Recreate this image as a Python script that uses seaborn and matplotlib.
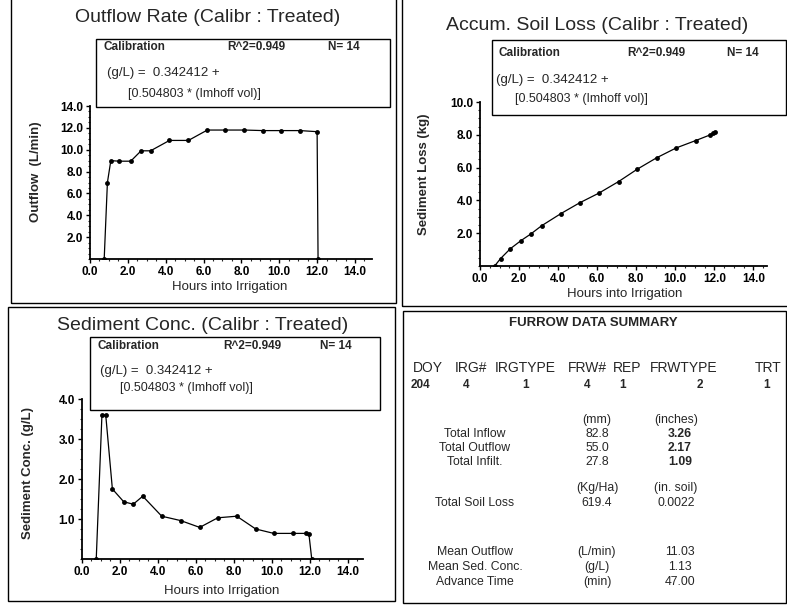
import matplotlib
matplotlib.use("Agg")
import matplotlib.pyplot as plt
import seaborn as sns
from matplotlib.patches import Rectangle
from matplotlib.ticker import MultipleLocator, FormatStrFormatter

# outflow rate, L/min
outflow_hours = [0.75, 0.92, 1.1, 1.55, 2.15, 2.7, 3.2, 4.2, 5.2, 6.2, 7.15, 8.15, 9.15, 10.1, 11.1, 12.0, 12.05]
outflow_lpm = [0.0, 7.0, 9.0, 8.95, 8.95, 9.9, 9.9, 10.85, 10.85, 11.8, 11.8, 11.8, 11.75, 11.75, 11.75, 11.65, 0.0]

# accumulated soil loss, kg
soil_hours = [0.75, 1.05, 1.55, 2.1, 2.6, 3.15, 4.15, 5.1, 6.1, 7.1, 8.05, 9.05, 10.05, 11.05, 11.8, 11.95, 12.05]
soil_kg = [0.0, 0.45, 1.05, 1.55, 1.95, 2.45, 3.2, 3.85, 4.45, 5.15, 5.9, 6.6, 7.2, 7.65, 8.0, 8.1, 8.15]

# sediment concentration, g/L
sed_hours = [0.75, 1.05, 1.25, 1.6, 2.2, 2.7, 3.2, 4.2, 5.2, 6.2, 7.15, 8.15, 9.15, 10.1, 11.1, 11.8, 11.95, 12.1]
sed_gl = [0.0, 3.6, 3.6, 1.75, 1.43, 1.37, 1.57, 1.07, 0.96, 0.79, 1.03, 1.07, 0.75, 0.64, 0.64, 0.64, 0.63, 0.0]

# summary table
head_names = ['DOY', 'IRG#', 'IRGTYPE', 'FRW#', 'REP', 'FRWTYPE', 'TRT']
head_values = ['204', '4', '1', '4', '1', '2', '1']
water_rows = ['Total Inflow', 'Total Outflow', 'Total Infilt.']
water_mm = ['82.8', '55.0', '27.8']
water_in = ['3.26', '2.17', '1.09']
soil_label = 'Total Soil Loss'
soil_kgha = '619.4'
soil_in = '0.0022'
mean_rows = ['Mean Outflow', 'Mean Sed. Conc.', 'Advance Time']
mean_units = ['(L/min)', '(g/L)', '(min)']
mean_values = ['11.03', '1.13', '47.00']

sns.set_theme(style='ticks')
plt.rcParams['font.family'] = ['Liberation Sans', 'DejaVu Sans']

W, H = 787, 612
fig = plt.figure(figsize=(W / 100, H / 100), dpi=100)
fig.patch.set_facecolor('white')


def fx(x):
    return x / W


def fy(y):
    return 1 - y / H


def add_ax(left, top, right, bottom):
    return fig.add_axes([fx(left), fy(bottom), (right - left) / W, (bottom - top) / H])


def style_ax(ax, xmax, ymax, ystep, ylabel, ylab_pos, xlab_pos):
    ax.set_xlim(0, xmax)
    ax.set_ylim(0, ymax)
    ax.xaxis.set_major_locator(MultipleLocator(2))
    ax.xaxis.set_minor_locator(MultipleLocator(0.5))
    ax.yaxis.set_major_locator(MultipleLocator(ystep))
    ax.yaxis.set_minor_locator(MultipleLocator(ystep / 4))
    ax.xaxis.set_major_formatter(FormatStrFormatter('%.1f'))
    ax.yaxis.set_major_formatter(FormatStrFormatter('%.1f'))
    ax.set_yticks([t for t in ax.get_yticks() if 0 < t <= ymax + 1e-9])
    sns.despine(ax=ax)
    for s in ['left', 'bottom']:
        ax.spines[s].set_linewidth(1.3)
        ax.spines[s].set_color('black')
    ax.tick_params(which='major', length=3, width=1, labelsize=8.5, pad=2, colors='black')
    ax.tick_params(which='minor', length=1.5, width=0.8)
    for lab in ax.get_xticklabels() + ax.get_yticklabels():
        lab.set_fontweight('bold')
    ax.set_xlabel('Hours into Irrigation', fontsize=9.5)
    ax.set_ylabel(ylabel, fontsize=9.5, fontweight='bold')
    ax.xaxis.set_label_coords(fx(xlab_pos[0]), fy(xlab_pos[1]), transform=fig.transFigure)
    ax.yaxis.set_label_coords(fx(ylab_pos[0]), fy(ylab_pos[1]), transform=fig.transFigure)
    ax.set_facecolor('white')


def draw_line(ax, x, y):
    sns.lineplot(x=x, y=y, ax=ax, color='black', linewidth=0.9, marker='o',
                 markersize=3.5, markeredgewidth=0, estimator=None, sort=False)


def calib_box(left, top, right, bottom, y1, y2, y3, xs):
    fig.add_artist(Rectangle((fx(left), fy(bottom)), (right - left) / W, (bottom - top) / H,
                             transform=fig.transFigure, facecolor='white',
                             edgecolor='black', linewidth=1.0, zorder=5))
    fig.text(fx(xs[0]), fy(y1), 'Calibration', fontsize=8.5, fontweight='bold', va='center', zorder=6)
    fig.text(fx(xs[1]), fy(y1), 'R^2=0.949', fontsize=8.5, fontweight='bold', va='center', zorder=6)
    fig.text(fx(xs[2]), fy(y1), 'N= 14', fontsize=8.5, fontweight='bold', va='center', zorder=6)
    fig.text(fx(xs[3]), fy(y2), '(g/L) =  0.342412 +', fontsize=9.5, va='center', zorder=6)
    fig.text(fx(xs[4]), fy(y3), '[0.504803 * (Imhoff vol)]', fontsize=9, va='center', zorder=6)


def border(left, top, right, bottom):
    fig.add_artist(Rectangle((fx(left), fy(bottom)), (right - left) / W, (bottom - top) / H,
                             transform=fig.transFigure, facecolor='none',
                             edgecolor='black', linewidth=1.0, zorder=1))


# panel frames
border(11, -5, 396, 303)
border(402, -5, 792, 306)
border(8, 307, 395, 601)
border(403, 311, 786, 603)

# outflow rate
ax1 = add_ax(90, 106, 372, 259)
draw_line(ax1, outflow_hours, outflow_lpm)
style_ax(ax1, 14.9, 14.0, 2.0, 'Outflow  (L/min)', (42, 172), (230, 281))
fig.text(fx(208), fy(17), 'Outflow Rate (Calibr : Treated)', fontsize=14, ha='center', va='center')
calib_box(96, 39, 390, 107, 47, 73, 94, [104, 227, 328, 107, 128])

# accumulated soil loss
ax2 = add_ax(480, 102, 767, 266)
draw_line(ax2, soil_hours, soil_kg)
style_ax(ax2, 14.7, 10.0, 2.0, 'Sediment Loss (kg)', (430, 174), (625, 288))
fig.text(fx(597), fy(25), 'Accum. Soil Loss (Calibr : Treated)', fontsize=14, ha='center', va='center')
calib_box(492, 40, 786, 115, 53, 80, 99, [498, 627, 727, 496, 515])

# sediment concentration
ax3 = add_ax(82, 399, 363, 559)
draw_line(ax3, sed_hours, sed_gl)
style_ax(ax3, 14.8, 4.0, 1.0, 'Sediment Conc. (g/L)', (34, 473), (222, 585))
fig.text(fx(203), fy(325), 'Sediment Conc. (Calibr : Treated)', fontsize=14, ha='center', va='center')
calib_box(90, 337, 380, 410, 346, 371, 388, [98, 223, 320, 100, 120])

# furrow data summary
fig.text(fx(593), fy(323), 'FURROW DATA SUMMARY', fontsize=9.5, fontweight='bold', ha='center', va='center')
head_left = [413, 455, 495, 568, 613, 650, 755]
val_x = [420, 466, 526, 587, 623, 700, 767]
for hx, vx, name, val in zip(head_left, val_x, head_names, head_values):
    fig.text(fx(hx), fy(368), name, fontsize=10, ha='left', va='center')
    fig.text(fx(vx), fy(385), val, fontsize=8.5, fontweight='bold', ha='center', va='center')

fig.text(fx(597), fy(420), '(mm)', fontsize=8.8, ha='center', va='center')
fig.text(fx(676), fy(420), '(inches)', fontsize=8.8, ha='center', va='center')
for i, (lab, mm, inch) in enumerate(zip(water_rows, water_mm, water_in)):
    yy = 434 + i * 14
    fig.text(fx(475), fy(yy), lab, fontsize=8.8, ha='center', va='center')
    fig.text(fx(597), fy(yy), mm, fontsize=8.8, ha='center', va='center')
    fig.text(fx(680), fy(yy), inch, fontsize=8.8, fontweight='bold', ha='center', va='center')

fig.text(fx(597), fy(488), '(Kg/Ha)', fontsize=8.8, ha='center', va='center')
fig.text(fx(676), fy(488), '(in. soil)', fontsize=8.8, ha='center', va='center')
fig.text(fx(475), fy(503), soil_label, fontsize=8.8, ha='center', va='center')
fig.text(fx(597), fy(503), soil_kgha, fontsize=8.8, ha='center', va='center')
fig.text(fx(676), fy(503), soil_in, fontsize=8.8, ha='center', va='center')

for i, (lab, unit, val) in enumerate(zip(mean_rows, mean_units, mean_values)):
    yy = 552 + i * 15
    fig.text(fx(475), fy(yy), lab, fontsize=8.8, ha='center', va='center')
    fig.text(fx(597), fy(yy), unit, fontsize=8.8, ha='center', va='center')
    fig.text(fx(680), fy(yy), val, fontsize=8.8, ha='center', va='center')

fig.savefig('out.png', dpi=100, facecolor='white')
